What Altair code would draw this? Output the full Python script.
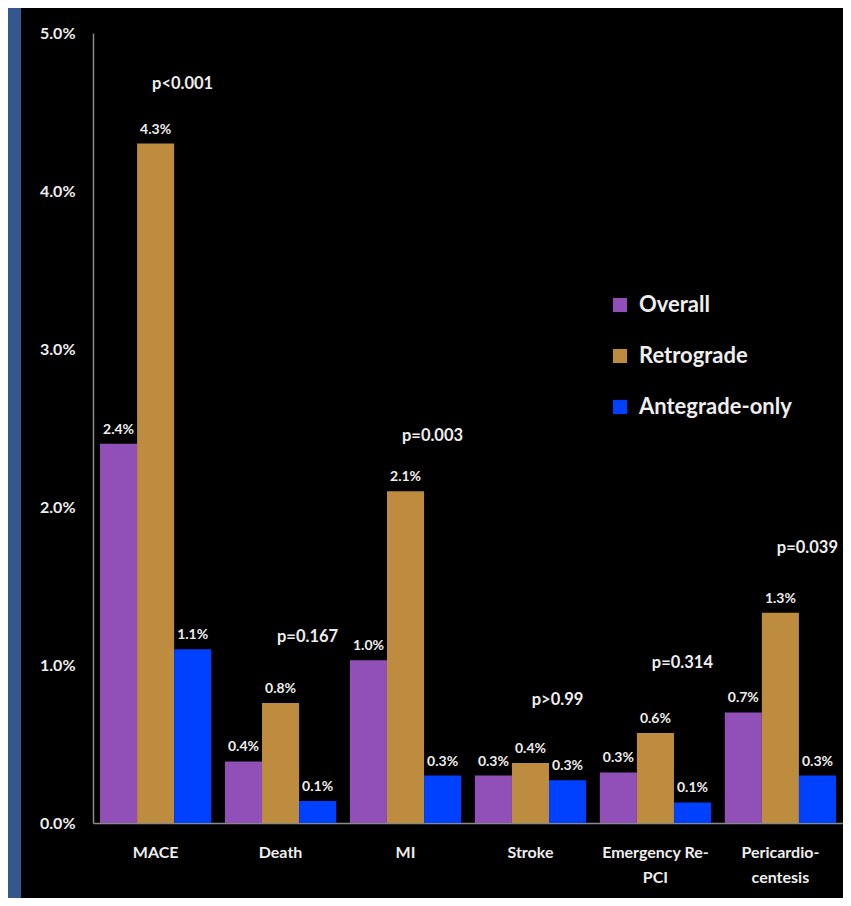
import altair as alt
import pandas as pd

categories = ["MACE", "Death", "MI", "Stroke", "Emergency Re-|PCI", "Pericardio-|centesis"]
series = ["Overall", "Retrograde", "Antegrade-only"]
colors = ["#9050b8", "#bd8c3e", "#0040ff"]

overall = [2.40, 0.39, 1.03, 0.30, 0.32, 0.70]
retrograde = [4.30, 0.76, 2.10, 0.38, 0.57, 1.33]
antegrade = [1.10, 0.14, 0.30, 0.27, 0.13, 0.30]

overall_lbl = ["2.4%", "0.4%", "1.0%", "0.3%", "0.3%", "0.7%"]
retrograde_lbl = ["4.3%", "0.8%", "2.1%", "0.4%", "0.6%", "1.3%"]
antegrade_lbl = ["1.1%", "0.1%", "0.3%", "0.3%", "0.1%", "0.3%"]

p_labels = ["p<0.001", "p=0.167", "p=0.003", "p>0.99", "p=0.314", "p=0.039"]
p_y = [4.68, 1.18, 2.45, 0.78, 1.01, 1.74]

rows = []
for s, vals, lbls in zip(series, [overall, retrograde, antegrade],
                         [overall_lbl, retrograde_lbl, antegrade_lbl]):
    for c, v, l in zip(categories, vals, lbls):
        rows.append({"cat": c, "series": s, "value": v, "label": l})
df = pd.DataFrame(rows)
pdf = pd.DataFrame({"cat": categories, "p": p_labels, "y": p_y})

FONT = "Lato"
TXT = "#eeeeee"

x_enc = alt.X("cat:N", sort=categories,
              scale=alt.Scale(paddingInner=0.11, paddingOuter=0.056),
              axis=alt.Axis(title=None, labelAngle=0, ticks=False,
                            labelExpr="split(datum.label, '|')",
                            labelFont=FONT, labelFontWeight="bold",
                            labelFontSize=16, labelColor=TXT,
                            labelPadding=21, labelLineHeight=25,
                            domainColor="#8a8a8a", domainWidth=1.5))
y_enc = alt.Y("value:Q", scale=alt.Scale(domain=[0, 5], nice=False),
              axis=alt.Axis(title=None, values=[0, 1, 2, 3, 4, 5], ticks=False,
                            grid=False, labelExpr="format(datum.value, '.1f') + '%'",
                            labelFont=FONT, labelFontWeight="bold",
                            labelFontSize=16, labelColor=TXT, labelPadding=18,
                            domainColor="#8a8a8a", domainWidth=1.5))
xoff = alt.XOffset("series:N", sort=series, scale=alt.Scale(paddingInner=0))

strip = alt.Chart(pd.DataFrame({"d": [0]})).mark_rect(color="#34578c").encode(
    x=alt.value(-85), x2=alt.value(-72), y=alt.value(-25), y2=alt.value(865))

bars = alt.Chart(df).mark_bar().encode(
    x=x_enc, y=y_enc, xOffset=xoff,
    color=alt.Color("series:N", sort=series,
                    scale=alt.Scale(domain=series, range=colors),
                    legend=alt.Legend(title=None, orient="none", legendX=516, legendY=261,
                                      symbolType="square", symbolSize=200,
                                      symbolStrokeWidth=0,
                                      labelFont=FONT, labelFontWeight="bold",
                                      labelFontSize=22, labelColor=TXT,
                                      labelOffset=8, rowPadding=29)))

vlabels = alt.Chart(df).mark_text(baseline="bottom", dy=-7, font=FONT,
                                  fontWeight="bold", fontSize=14, color=TXT).encode(
    x=alt.X("cat:N", sort=categories), xOffset=xoff, y="value:Q", text="label:N")

plabels = alt.Chart(pdf).mark_text(baseline="middle", dx=27, font=FONT,
                                   fontWeight="bold", fontSize=16.5, color=TXT).encode(
    x=alt.X("cat:N", sort=categories), y=alt.Y("y:Q"), text="p:N")

chart = alt.layer(strip, bars, vlabels, plabels).properties(
    width=750, height=790,
    padding={"left": 85, "top": 25, "right": 0, "bottom": 75},
    autosize="none",
    background="#000000",
).configure_view(stroke=None)

chart.save("out.html", embed_options={"renderer": "svg", "actions": False})
